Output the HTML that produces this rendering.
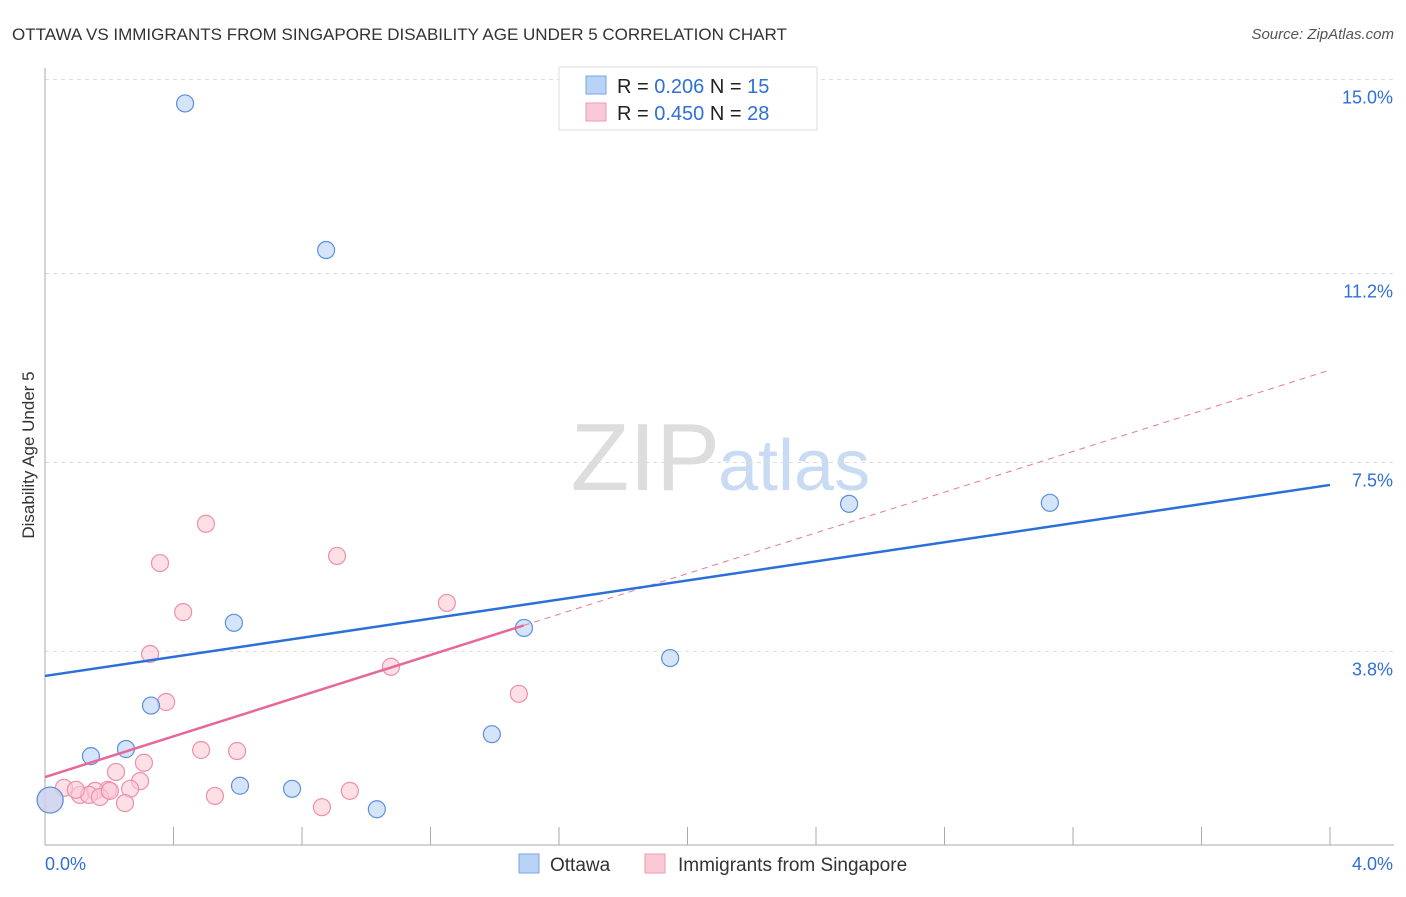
<!DOCTYPE html>
<html><head><meta charset="utf-8"><style>
body{margin:0;background:#fff;font-family:"Liberation Sans",sans-serif;}
svg text{font-family:"Liberation Sans",sans-serif;}
</style></head><body>
<svg id="chart" width="1406" height="892">
<text x="12" y="40" font-size="17" fill="#333">OTTAWA VS IMMIGRANTS FROM SINGAPORE DISABILITY AGE UNDER 5 CORRELATION CHART</text>
<text x="1394" y="39" font-size="15" fill="#555" font-style="italic" text-anchor="end">Source: ZipAtlas.com</text>
<text x="720" y="490" font-size="96" fill="#ddd" text-anchor="end" font-family="Liberation Serif">ZIP</text>
<text x="718" y="490" font-size="72" fill="#c9dbf3">atlas</text>
<g id="grid"></g><g id="axes"></g><g id="marks"></g>
<text transform="translate(34,455) rotate(-90)" font-size="17" fill="#333" text-anchor="middle">Disability Age Under 5</text>
<g>
<rect x="559" y="67" width="258" height="63" fill="#fff" stroke="#ddd"/>
<rect x="586" y="76" width="20" height="18" fill="#b8d3f5" stroke="#7aa6e0"/>
<rect x="586" y="103" width="20" height="18" fill="#fbc9d6" stroke="#ee9ab3"/>
<text x="617" y="93" font-size="20" fill="#222">R = <tspan fill="#2f6fd6">0.206</tspan>   N = <tspan fill="#2f6fd6">15</tspan></text>
<text x="617" y="120" font-size="20" fill="#222">R = <tspan fill="#2f6fd6">0.450</tspan>   N = <tspan fill="#2f6fd6">28</tspan></text>
</g>
<g>
<rect x="519" y="854" width="20" height="19" fill="#b8d3f5" stroke="#7aa6e0"/>
<text x="550" y="871" font-size="19" fill="#333">Ottawa</text>
<rect x="645" y="854" width="20" height="19" fill="#fbc9d6" stroke="#ee9ab3"/>
<text x="678" y="871" font-size="19" fill="#333">Immigrants from Singapore</text>
</g>
</svg>
<script>
const yTicks=[3.8,7.5,11.2,15.0];
const yTickLabels=["3.8%","7.5%","11.2%","15.0%"];
const xTicks=[0,0.4,0.8,1.2,1.6,2.0,2.4,2.8,3.2,3.6,4.0];
const blueX=[0.436,0.875,2.503,3.128,0.588,1.491,1.946,0.330,0.143,0.252,1.391,0.607,0.769,1.033,0.016];
const blueY=[14.53,11.66,6.69,6.71,4.36,4.26,3.67,2.74,1.75,1.89,2.18,1.17,1.11,0.71,0.89];
const pinkX=[0.501,0.358,0.909,0.430,1.251,0.327,1.077,0.377,1.475,0.486,0.598,0.221,0.308,0.296,0.265,0.196,0.156,0.109,0.137,0.171,0.249,0.529,0.862,0.949,0.059,0.096,0.016,0.202];
const pinkY=[6.30,5.53,5.67,4.57,4.75,3.75,3.50,2.81,2.97,1.87,1.85,1.44,1.62,1.26,1.11,1.09,1.07,0.99,0.99,0.95,0.83,0.97,0.75,1.07,1.13,1.09,0.89,1.07];
const blueTrend=[3.32,7.06];
const pinkTrend=[1.34,9.31];
const pinkSolidEnd=1.49;
const NS="http://www.w3.org/2000/svg";
const X=v=>45+v*321.25, Y=v=>845.5-v*51.07;
function mk(p,t,a){const e=document.createElementNS(NS,t);for(const k in a)e.setAttribute(k,a[k]);p.appendChild(e);return e;}
const grid=document.getElementById('grid'),axes=document.getElementById('axes'),marks=document.getElementById('marks');
yTicks.forEach((v,i)=>{
 const l=mk(grid,'line',{x1:45,x2:1394,y1:Y(v),y2:Y(v),stroke:'#ddd','stroke-dasharray':'4,4'});
 
 
 const t=mk(axes,'text',{x:1393,y:Y(v)+24,'font-size':18,fill:'#2f6fd6','text-anchor':'end'});
 t.textContent=yTickLabels[i];
 
 
});
const ax=mk(axes,'line',{x1:45,x2:45,y1:68,y2:845,stroke:'#aaa'});


const bx=mk(axes,'line',{x1:45,x2:1394,y1:845,y2:845,stroke:'#aaa'});


xTicks.forEach(v=>{
 const t=mk(axes,'line',{x1:X(v),x2:X(v),y1:827,y2:845,stroke:'#aaa'});
 
 
});
[[0,'0.0%','start',45],[4,'4.0%','end',1393]].forEach(d=>{
 const t=mk(axes,'text',{x:d[3],y:870,'font-size':18,fill:'#2f6fd6','text-anchor':d[2]});
 t.textContent=d[1];
 
 
});
function dot(x,y,fill,stroke,name){
 const big=x<0.03;
 const c=mk(marks,'circle',{cx:X(x),cy:Y(y),r:big?13:8.5,fill:fill,stroke:stroke,'stroke-width':1.2,'fill-opacity':0.6});
 
 
}
pinkX.forEach((x,i)=>dot(x,pinkY[i],'#fbc9d6','#ee8fac','singapore-point'));
blueX.forEach((x,i)=>dot(x,blueY[i],'#b8d3f5','#5c8fdc','ottawa-point'));
const pf=v=>pinkTrend[0]+(pinkTrend[1]-pinkTrend[0])*v/4;
const pd=mk(marks,'line',{x1:X(pinkSolidEnd),y1:Y(pf(pinkSolidEnd)),x2:X(4),y2:Y(pinkTrend[1]),stroke:'#e8779c','stroke-width':1,'stroke-dasharray':'6,5'});


const ps=mk(marks,'line',{x1:X(0),y1:Y(pinkTrend[0]),x2:X(pinkSolidEnd),y2:Y(pf(pinkSolidEnd)),stroke:'#e8679a','stroke-width':2.5});


const bl=mk(marks,'line',{x1:X(0),y1:Y(blueTrend[0]),x2:X(4),y2:Y(blueTrend[1]),stroke:'#2a70d8','stroke-width':2.5});


</script>
</body></html>
